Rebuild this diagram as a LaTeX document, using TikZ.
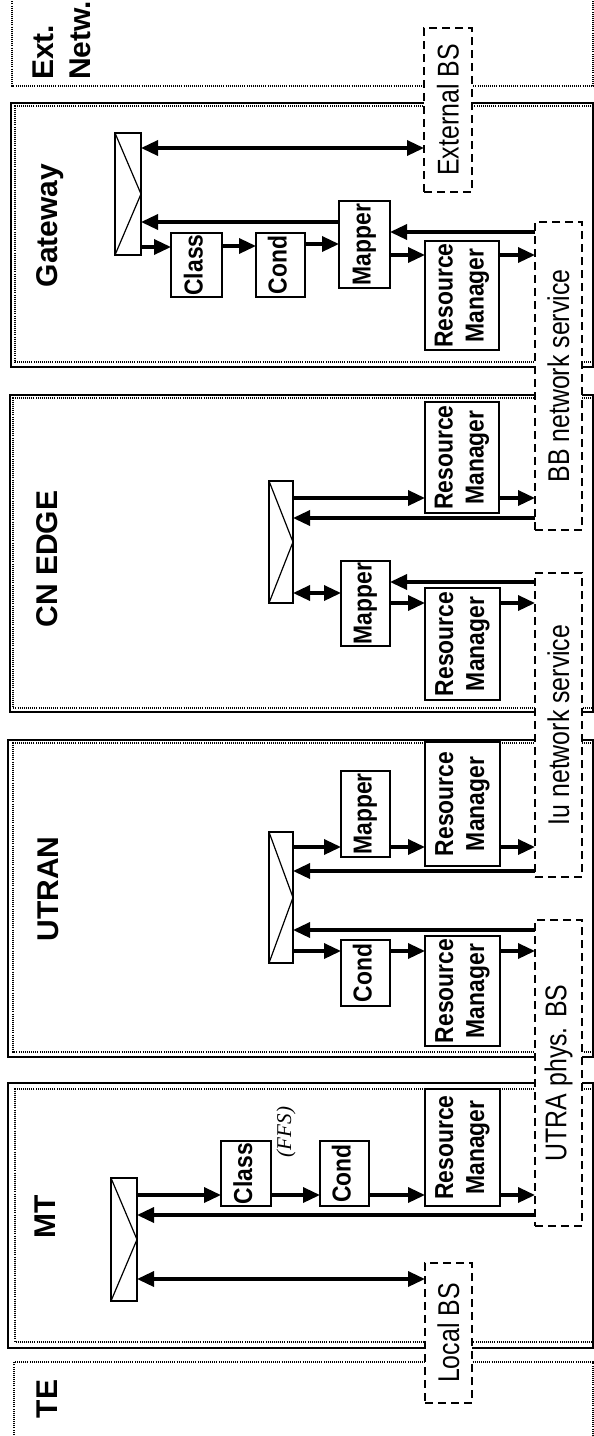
\documentclass[tikz,border=0pt]{standalone}
\usepackage{fontspec}
\setmainfont{Liberation Sans}
\newfontfamily\serifit{Liberation Serif}
\usepackage{graphicx}
\usetikzlibrary{arrows.meta}
\newcommand\rtxt[1]{\rotatebox{90}{\scalebox{0.88}[1]{\begin{tabular}{@{}c@{}}#1\end{tabular}}}}
\newcommand\rstxt[1]{\rotatebox{90}{\scalebox{0.83}[1]{#1}}}
\begin{document}
\begin{tikzpicture}[x=1pt,y=-1pt,
  blk/.style={draw, line width=1.8pt, fill=white, inner sep=0pt, outer sep=0pt, font=\bfseries\fontsize{26}{31}\selectfont},
  muxbox/.style={draw, line width=1.8pt, fill=white, inner sep=0pt, outer sep=0pt},
  bsbox/.style={draw, line width=1.9pt, dash pattern=on 8pt off 5pt, fill=white, inner sep=0pt, outer sep=0pt, font=\fontsize{30}{36}\selectfont},
  arr/.style={line width=3.4pt, -{Triangle[length=17pt,width=15pt]}},
  darr/.style={line width=3.4pt, {Triangle[length=17pt,width=15pt]}-{Triangle[length=17pt,width=15pt]}},
  hdr/.style={rotate=90, anchor=base, inner sep=0pt, font=\bfseries\fontsize{30}{37}\selectfont},
  domsolid/.style={line width=1.5pt},
  domdot/.style={line width=1.1pt, dash pattern=on 1pt off 1.1pt},
  zig/.style={line width=1.2pt}]
\useasboundingbox (0,0) rectangle (594,1436);
\clip (0,0) rectangle (594,1436);

% domain frames
\draw[domdot] (12,-5) -- (12,86) -- (593,86) -- (593,-5);
\draw[domsolid] (11,103) rectangle (593,367);
\draw[domdot] (593,106) -- (15,106) -- (15,362) -- (593,362);
\draw[domsolid] (10,395) rectangle (593,712);
\draw[domdot] (593,398) -- (13,398) -- (13,708) -- (593,708);
\draw[domsolid] (8,740) rectangle (593,1057);
\draw[domdot] (593,743) -- (13,743) -- (13,1052) -- (593,1052);
\draw[domsolid] (8,1083) rectangle (593,1348);
\draw[domdot] (593,1089) -- (15,1089) -- (15,1342) -- (593,1342);
\draw[domdot] (14,1441) -- (14,1362) -- (593,1362) -- (593,1441);

% headers
\node[rotate=90, anchor=north west, align=left, inner sep=0pt, font=\bfseries\fontsize{30}{37}\selectfont] (hExt) at (33,80) {Ext.\\Netw.};
\node[hdr] (hGate) at (57,225.5) {Gateway};
\node[hdr] (hCN) at (57,559) {CN EDGE};
\node[hdr] (hUT) at (58,889) {UTRAN};
\node[hdr] (hMT) at (55,1217) {MT};
\node[hdr] (hTE) at (57,1399) {TE};

% dashed bearer service boxes
\node[bsbox, minimum width=48pt, minimum height=164pt] (extBS) at (448,110) {\rstxt{External BS}};
\node[bsbox, minimum width=47pt, minimum height=308pt] (bbBS) at (558.5,376) {\rstxt{BB network service}};
\node[bsbox, minimum width=47pt, minimum height=304pt] (iuBS) at (558.5,725) {\rstxt{Iu network service}};
\node[bsbox, minimum width=47pt, minimum height=306pt] (utraBS) at (558.5,1073) {\rstxt{UTRA phys. BS}};
\node[bsbox, minimum width=47pt, minimum height=140pt] (localBS) at (448.5,1333) {\rstxt{Local BS}};

% Gateway
\node[muxbox, minimum width=26pt, minimum height=122pt] (muxG) at (128,194) {};
\node[blk, minimum width=51pt, minimum height=64pt] (classG) at (196.5,265) {\rtxt{Class}};
\node[blk, minimum width=49pt, minimum height=64pt] (condG) at (280.5,265) {\rtxt{Cond}};
\node[blk, minimum width=51pt, minimum height=87pt] (mapG) at (364.5,244.5) {\rtxt{Mapper}};
\node[blk, minimum width=74pt, minimum height=109pt] (rmG) at (462,295.5) {\rtxt{Resource\\Manager}};

% CN EDGE
\node[muxbox, minimum width=24pt, minimum height=122pt] (muxC) at (281,542) {};
\node[blk, minimum width=74pt, minimum height=111pt] (rmC1) at (462,457.5) {\rtxt{Resource\\Manager}};
\node[blk, minimum width=49pt, minimum height=85pt] (mapC) at (365.5,603.5) {\rtxt{Mapper}};
\node[blk, minimum width=75pt, minimum height=112pt] (rmC2) at (462.5,644) {\rtxt{Resource\\Manager}};

% UTRAN
\node[muxbox, minimum width=24pt, minimum height=131pt] (muxU) at (281,897.5) {};
\node[blk, minimum width=49pt, minimum height=86pt] (mapU) at (365.5,814) {\rtxt{Mapper}};
\node[blk, minimum width=75pt, minimum height=124pt] (rmU1) at (462.5,804) {\rtxt{Resource\\Manager}};
\node[blk, minimum width=49pt, minimum height=66pt] (condU) at (365.5,973) {\rtxt{Cond}};
\node[blk, minimum width=75pt, minimum height=110pt] (rmU2) at (462.5,991) {\rtxt{Resource\\Manager}};

% MT
\node[muxbox, minimum width=26pt, minimum height=123pt] (muxMT) at (124,1239.5) {};
\node[blk, minimum width=50pt, minimum height=65pt] (classMT) at (246,1173.5) {\rtxt{Class}};
\node[blk, minimum width=49pt, minimum height=65pt] (condMT) at (344.5,1173.5) {\rtxt{Cond}};
\node[blk, minimum width=75pt, minimum height=117pt] (rmMT) at (462.5,1147.5) {\rtxt{Resource\\Manager}};
\node[rotate=90, inner sep=0pt, font=\serifit\itshape\fontsize{21}{24}\selectfont] (ffs) at (286,1132) {(FFS)};

% mux zigzags
\foreach \m in {muxG,muxC,muxU,muxMT}
  \draw[zig] (\m.north west) -- (\m.east) -- (\m.south west);

% Gateway arrows
\draw[darr] (muxG.east |- 0,148) -- (extBS.west |- 0,148);
\draw[arr] (mapG.west |- 0,222) -- (muxG.east |- 0,222);
\draw[arr] (bbBS.west |- 0,232) -- (mapG.east |- 0,232);
\draw[arr] (muxG.east |- 0,247) -- (classG.west |- 0,247);
\draw[arr] (classG.east |- 0,246) -- (condG.west |- 0,246);
\draw[arr] (condG.east |- 0,244) -- (mapG.west |- 0,244);
\draw[arr] (mapG.east |- 0,255) -- (rmG.west |- 0,255);
\draw[arr] (rmG.east |- 0,255) -- (bbBS.west |- 0,255);

% CN EDGE arrows
\draw[arr] (muxC.east |- 0,498) -- (rmC1.west |- 0,498);
\draw[arr] (rmC1.east |- 0,498) -- (bbBS.west |- 0,498);
\draw[arr] (bbBS.west |- 0,518) -- (muxC.east |- 0,518);
\draw[darr] (muxC.east |- 0,593) -- (mapC.west |- 0,593);
\draw[arr] (iuBS.west |- 0,582) -- (mapC.east |- 0,582);
\draw[arr] (mapC.east |- 0,603) -- (rmC2.west |- 0,603);
\draw[arr] (rmC2.east |- 0,603) -- (iuBS.west |- 0,603);

% UTRAN arrows
\draw[arr] (muxU.east |- 0,847) -- (mapU.west |- 0,847);
\draw[arr] (mapU.east |- 0,847) -- (rmU1.west |- 0,847);
\draw[arr] (rmU1.east |- 0,847) -- (iuBS.west |- 0,847);
\draw[arr] (iuBS.west |- 0,871) -- (muxU.east |- 0,871);
\draw[arr] (utraBS.west |- 0,930) -- (muxU.east |- 0,930);
\draw[arr] (muxU.east |- 0,951) -- (condU.west |- 0,951);
\draw[arr] (condU.east |- 0,951) -- (rmU2.west |- 0,951);
\draw[arr] (rmU2.east |- 0,951) -- (utraBS.west |- 0,951);

% MT arrows
\draw[arr] (muxMT.east |- 0,1195) -- (classMT.west |- 0,1195);
\draw[arr] (classMT.east |- 0,1195) -- (condMT.west |- 0,1195);
\draw[arr] (condMT.east |- 0,1195) -- (rmMT.west |- 0,1195);
\draw[arr] (rmMT.east |- 0,1195) -- (utraBS.west |- 0,1195);
\draw[arr] (utraBS.west |- 0,1215) -- (muxMT.east |- 0,1215);
\draw[darr] (muxMT.east |- 0,1279) -- (localBS.west |- 0,1279);
\end{tikzpicture}
\end{document}
